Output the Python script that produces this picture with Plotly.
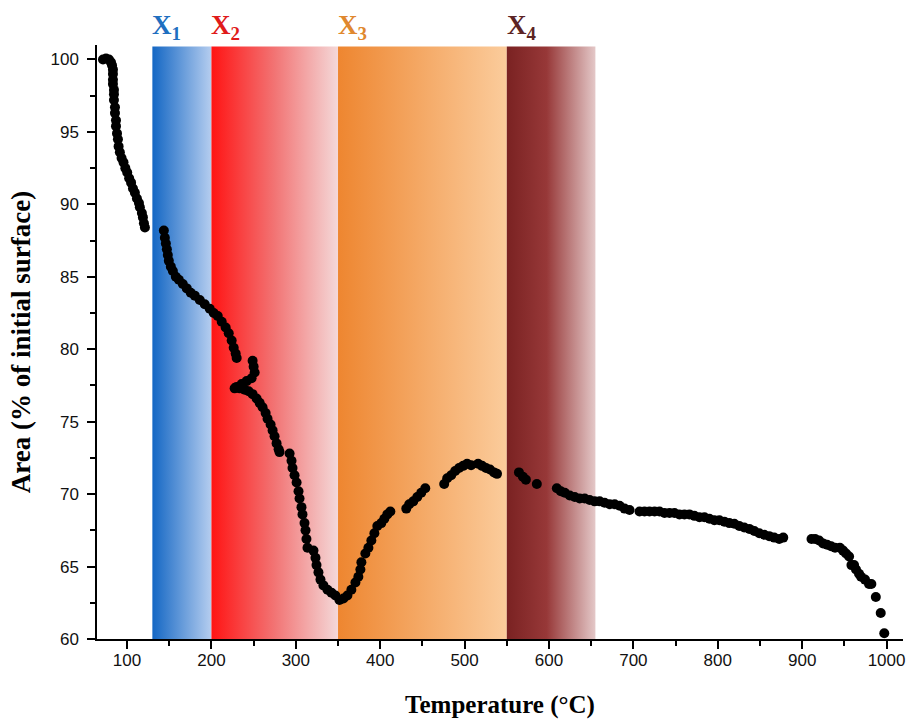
import plotly.graph_objects as go

# Temperature (°C) and remaining area (% of initial surface), in acquisition order
temperature = [
    71.5, 75.1, 78.6, 81.0, 82.2, 83.3, 83.3, 83.3, 83.3, 84.5, 84.5, 84.5, 85.7, 85.7,
    86.9, 86.9, 88.1, 89.2, 90.0, 91.5, 93.5, 95.8, 98.0, 100.2, 102.5, 104.8, 107.0,
    109.3, 111.7, 114.1, 115.2, 117.6, 118.8, 120.0, 121.2,
    143.6, 144.8, 146.0, 147.2, 148.3, 149.5, 151.9, 154.3, 157.8, 161.4, 166.1, 170.8,
    175.5, 180.3, 186.2, 192.1, 198.0, 202.7, 207.5, 212.2, 216.9, 220.5, 224.0, 226.4,
    228.7, 229.9,
    248.8, 250.0, 251.2, 247.6, 241.7, 235.8, 229.9, 227.5, 233.5, 239.4, 244.1, 248.8,
    253.5, 257.1, 260.6, 264.2, 266.5, 270.1, 272.5, 274.8, 277.2, 279.6, 280.7,
    292.6, 294.9, 296.1, 298.5, 300.9, 303.2, 304.4, 306.7, 307.9, 310.3, 311.5, 312.6,
    313.8,
    320.9, 323.3, 324.5, 326.8, 329.2, 332.7, 337.5, 342.2, 346.9, 351.7, 356.4, 361.1,
    365.8, 370.6, 374.1, 376.5, 377.7,
    382.4, 386.0, 389.5, 393.1, 396.6,
    401.3, 404.9, 408.4, 412.0,
    430.9, 434.4, 439.2, 443.9, 448.6, 453.4,
    475.8, 479.4, 484.1, 488.8, 493.5, 498.3, 503.0, 507.7,
    516.0, 520.7, 525.4, 530.1, 534.9, 538.4,
    564.4, 569.1, 572.6,
    585.6,
    609.3, 614.0, 618.7, 624.6, 630.5, 636.4, 642.3, 648.2, 654.1, 660.0, 665.9, 671.9,
    677.8, 683.7, 689.6, 695.5,
    707.3, 713.2, 719.1, 725.1, 731.0, 736.9, 742.8, 748.7, 754.6, 760.5, 766.4, 772.3,
    778.3, 784.2, 790.1, 796.0, 801.9, 807.8, 813.7, 819.6, 825.5, 831.4, 837.4, 843.3,
    849.2, 855.1, 861.0, 866.9, 872.8, 877.6,
    911.1, 915.4, 920.1, 924.8, 929.6, 934.3, 939.0, 944.7, 948.5, 952.0, 955.6, 958.4,
    961.5, 963.8, 967.4, 969.8, 974.5, 979.2, 982.0,
    987.3, 993.1, 997.3,
]
area = [
    100.0, 100.07, 100.0, 99.8, 99.6, 99.3, 99.0, 98.6, 98.3, 97.9, 97.6, 97.2, 96.7, 96.3,
    95.8, 95.4, 94.9, 94.5, 94.0, 93.6, 93.2, 92.9, 92.5, 92.2, 91.8, 91.5, 91.1,
    90.8, 90.4, 90.1, 89.8, 89.4, 89.1, 88.7, 88.4,
    88.2, 87.7, 87.3, 86.9, 86.5, 86.1, 85.7, 85.4, 85.0, 84.8, 84.5, 84.2,
    83.9, 83.7, 83.4, 83.1, 82.8, 82.5, 82.3, 81.9, 81.5, 81.1, 80.6, 80.1,
    79.7, 79.4,
    79.2, 78.8, 78.4, 78.0, 77.8, 77.6, 77.4, 77.3, 77.3, 77.2, 77.1, 76.9,
    76.6, 76.3, 76.0, 75.6, 75.2, 74.8, 74.4, 74.0, 73.5, 73.1, 72.9,
    72.8, 72.3, 71.8, 71.3, 70.8, 70.2, 69.7, 69.1, 68.6, 68.0, 67.5, 66.9,
    66.3,
    66.1, 65.6, 65.1, 64.6, 64.1, 63.7, 63.4, 63.2, 63.0, 62.7, 62.8, 63.0,
    63.4, 63.9, 64.3, 64.8, 65.3,
    65.9, 66.3, 66.8, 67.3, 67.8,
    68.0, 68.3, 68.6, 68.8,
    69.0, 69.3, 69.5, 69.8, 70.1, 70.4,
    70.7, 71.1, 71.3, 71.6, 71.8, 71.95, 72.1, 72.0,
    72.1, 71.95, 71.8, 71.7, 71.5, 71.4,
    71.5, 71.2, 71.0,
    70.7,
    70.4, 70.2, 70.1, 69.9, 69.8, 69.7, 69.7, 69.6, 69.5, 69.5, 69.4, 69.3,
    69.3, 69.2, 69.0, 68.9,
    68.8, 68.8, 68.8, 68.8, 68.8, 68.7, 68.7, 68.7, 68.6, 68.6, 68.6, 68.5,
    68.4, 68.4, 68.3, 68.2, 68.2, 68.1, 68.0, 67.95, 67.8, 67.7, 67.6, 67.45,
    67.3, 67.2, 67.1, 67.0, 66.9, 67.0,
    66.9, 66.9, 66.8, 66.6, 66.5, 66.4, 66.3, 66.3, 66.1, 65.9, 65.7, 65.1,
    65.1, 64.8, 64.5, 64.3, 64.1, 63.8, 63.8,
    62.9, 61.8, 60.4,
]

# Temperature stages shaded behind the data
stage_names = ["X<sub>1</sub>", "X<sub>2</sub>", "X<sub>3</sub>", "X<sub>4</sub>"]
stage_start = [130, 200, 350, 550]
stage_end = [200, 350, 550, 655]
stage_gradient = [
    [[0, "#1467c4"], [1, "#b5cdef"]],
    [[0, "#ff1414"], [0.5, "#f27474"], [1, "#f4d8d8"]],
    [[0, "#ee8630"], [1, "#fbcc9c"]],
    [[0, "#7a2222"], [0.45, "#973838"], [1, "#e4c8c8"]],
]
stage_label_color = ["#1f6fc0", "#e01a1a", "#e0882e", "#5c2424"]

y_min, y_max = 60, 101
band_top = 100.9

serif = "Liberation Serif, Times New Roman, serif"
sans = "Liberation Sans, Arial, sans-serif"

fig = go.Figure()

for x0, x1, scale in zip(stage_start, stage_end, stage_gradient):
    fig.add_trace(go.Scatter(
        x=[x0, x1, x1, x0, x0],
        y=[y_min, y_min, band_top, band_top, y_min],
        mode="lines",
        line=dict(width=0),
        fill="toself",
        fillgradient=dict(type="horizontal", colorscale=scale),
        hoverinfo="skip",
        showlegend=False,
    ))

fig.add_trace(go.Scatter(
    x=temperature,
    y=area,
    mode="markers",
    marker=dict(color="black", size=10, line=dict(width=0)),
    showlegend=False,
))

for name, x0, col in zip(stage_names, stage_start, stage_label_color):
    fig.add_annotation(
        x=x0, y=band_top, xref="x", yref="y",
        text=f"<b>{name}</b>",
        showarrow=False,
        xanchor="left", yanchor="bottom",
        xshift=-2, yshift=0,
        font=dict(family=serif, size=27, color=col),
    )

fig.update_xaxes(
    range=[64.4, 1019.5],
    tickmode="array",
    tickvals=[100, 200, 300, 400, 500, 600, 700, 800, 900, 1000],
    ticks="outside", ticklen=8, tickwidth=1.5, tickcolor="black",
    minor=dict(tickvals=[150, 250, 350, 450, 550, 650, 750, 850, 950],
               ticks="outside", ticklen=5, tickwidth=1.5, tickcolor="black"),
    showline=True, linecolor="black", linewidth=1.5,
    showgrid=False, zeroline=False,
    ticklabelstandoff=-3,
    tickfont=dict(family=sans, size=17, color="#111"),
    title=dict(text="<b>Temperature (°C)</b>", font=dict(family=serif, size=25, color="black"),
               standoff=26),
)
fig.update_yaxes(
    range=[y_min, y_max],
    tickmode="array",
    tickvals=[60, 65, 70, 75, 80, 85, 90, 95, 100],
    ticks="outside", ticklen=8, tickwidth=1.5, tickcolor="black",
    minor=dict(tickvals=[62.5, 67.5, 72.5, 77.5, 82.5, 87.5, 92.5, 97.5],
               ticks="outside", ticklen=5, tickwidth=1.5, tickcolor="black"),
    showline=True, linecolor="black", linewidth=1.5,
    showgrid=False, zeroline=False,
    ticklabelstandoff=5,
    tickfont=dict(family=sans, size=17, color="#111"),
    title=dict(text="<b>Area (% of initial surface)</b>",
               font=dict(family=serif, size=27, color="black"), standoff=12),
)

fig.update_layout(
    width=912, height=726,
    margin=dict(l=97, r=7, t=45, b=87),
    plot_bgcolor="white", paper_bgcolor="white",
)

fig.write_html("out.html")
